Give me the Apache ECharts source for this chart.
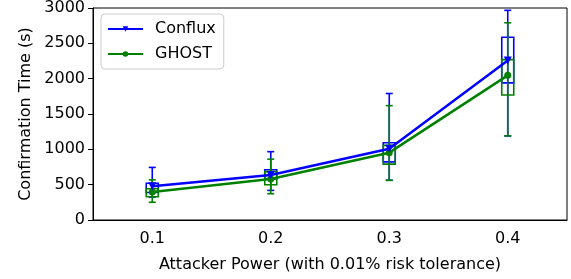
<!DOCTYPE html>
<html>
<head>
<meta charset="utf-8">
<script src="https://cdn.jsdelivr.net/npm/echarts@6/dist/echarts.min.js"></script>
<style>
  html, body { margin: 0; padding: 0; background: #fff; }
  #chart { width: 571px; height: 279px; }
</style>
</head>
<body>
<div id="chart"></div>
<script>
// attacker power categories
const categories = ["0.1", "0.2", "0.3", "0.4"];

// Conflux: mean + box/whisker stats (s)
const confluxMean = [478, 637, 1009, 2256];
const confluxLow = [325, 419, 562, 1190];
const confluxQ1 = [390, 582, 823, 1940];
const confluxQ3 = [521, 712, 1093, 2586];
const confluxHigh = [744, 967, 1790, 2967];

// GHOST
const ghostMean = [395, 581, 953, 2047];
const ghostLow = [251, 372, 562, 1190];
const ghostQ1 = [330, 498, 791, 1768];
const ghostQ3 = [442, 684, 1056, 2270];
const ghostHigh = [568, 861, 1618, 2791];

const yTicks = [0, 500, 1000, 1500, 2000, 2500, 3000];

const BLUE = "#0000ff";
const GREEN = "#008000";
const FONT = "DejaVu Sans";

function boxData(low, q1, q3, high) {
  return categories.map((c, i) => [i, low[i], q1[i], q3[i], high[i]]);
}

// box + whisker drawn through the axis scales
function renderBox(color) {
  return function (params, api) {
    const i = api.value(0);
    const pLow = api.coord([i, api.value(1)]);
    const pQ1 = api.coord([i, api.value(2)]);
    const pQ3 = api.coord([i, api.value(3)]);
    const pHigh = api.coord([i, api.value(4)]);
    const x = pLow[0];
    const bw = 12, cw = 7;
    const style = { stroke: color, lineWidth: 1.6, fill: null };
    return {
      type: "group",
      children: [
        { type: "line", shape: { x1: x, y1: pLow[1], x2: x, y2: pHigh[1] }, style: style },
        { type: "line", shape: { x1: x - cw / 2, y1: pLow[1], x2: x + cw / 2, y2: pLow[1] }, style: style },
        { type: "line", shape: { x1: x - cw / 2, y1: pHigh[1], x2: x + cw / 2, y2: pHigh[1] }, style: style },
        { type: "rect", shape: { x: x - bw / 2, y: pQ3[1], width: bw, height: pQ1[1] - pQ3[1] }, style: style }
      ]
    };
  };
}

const chart = echarts.init(document.getElementById("chart"));
const option = {
  animation: false,
  textStyle: { fontFamily: FONT },
  grid: {
    left: 93, right: 4, top: 5, bottom: 59,
    show: true, borderColor: "#000", borderWidth: 1, backgroundColor: "transparent"
  },
  legend: {
    left: 101, top: 14,
    orient: "vertical",
    itemWidth: 35, itemHeight: 7, itemGap: 9,
    padding: [7, 8, 7, 6],
    borderColor: "#cccccc", borderWidth: 1, borderRadius: 4,
    backgroundColor: "rgba(255,255,255,0.8)",
    textStyle: { fontFamily: FONT, fontSize: 16, color: "#000", padding: [0, 0, 0, 7] },
    data: ["Conflux", "GHOST"]
  },
  xAxis: {
    type: "category",
    data: categories,
    boundaryGap: true,
    name: "Attacker Power (with 0.01% risk tolerance)",
    nameLocation: "middle",
    nameGap: 37,
    nameTextStyle: { fontFamily: FONT, fontSize: 16, color: "#000" },
    axisLine: { lineStyle: { color: "#000", width: 1 } },
    axisTick: { alignWithLabel: true, length: 5, lineStyle: { color: "#000" } },
    axisLabel: { fontFamily: FONT, fontSize: 16, color: "#000", margin: 11 },
    splitLine: { show: false }
  },
  yAxis: {
    type: "value",
    min: yTicks[0],
    max: yTicks[yTicks.length - 1],
    interval: 500,
    name: "Confirmation Time (s)",
    nameLocation: "middle",
    nameGap: 55,
    nameTextStyle: { fontFamily: FONT, fontSize: 16, color: "#000" },
    axisLine: { show: true, lineStyle: { color: "#000", width: 1 } },
    axisTick: { show: true, length: 5, lineStyle: { color: "#000" } },
    axisLabel: { fontFamily: FONT, fontSize: 16, color: "#000", margin: 8, formatter: (v) => String(v) },
    splitLine: { show: false }
  },
  series: [
    {
      name: "ConfluxBox",
      type: "custom",
      renderItem: renderBox(BLUE),
      data: boxData(confluxLow, confluxQ1, confluxQ3, confluxHigh),
      encode: { x: 0, y: [1, 2, 3, 4] },
      z: 2
    },
    {
      name: "GHOSTBox",
      type: "custom",
      renderItem: renderBox(GREEN),
      data: boxData(ghostLow, ghostQ1, ghostQ3, ghostHigh),
      encode: { x: 0, y: [1, 2, 3, 4] },
      z: 2
    },
    {
      name: "Conflux",
      type: "line",
      data: confluxMean,
      color: BLUE,
      lineStyle: { width: 2.5, color: BLUE },
      symbol: "triangle",
      symbolRotate: 180,
      symbolSize: 8,
      itemStyle: { color: BLUE },
      z: 4
    },
    {
      name: "GHOST",
      type: "line",
      data: ghostMean,
      color: GREEN,
      lineStyle: { width: 2.5, color: GREEN },
      symbol: "circle",
      symbolSize: 7,
      itemStyle: { color: GREEN },
      z: 3
    }
  ]
};
chart.setOption(option);
</script>
</body>
</html>
